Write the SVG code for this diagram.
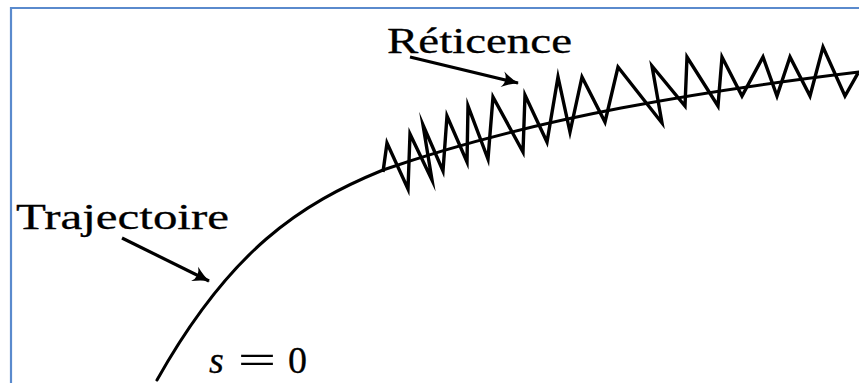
<svg xmlns="http://www.w3.org/2000/svg" width="859" height="383" viewBox="0 0 859 383">
  <style>
    .lbl { font-family: "Liberation Serif", "DejaVu Serif", serif; font-size: 36px; fill: #000; stroke: #000; stroke-width: 0.3; }
    .curve { fill: none; stroke: #000; stroke-width: 3; stroke-linecap: round; }
    .zig { fill: none; stroke: #000; stroke-width: 3.4; stroke-linejoin: miter; stroke-miterlimit: 10; }
    .arr { fill: none; stroke: #000; stroke-width: 3.2; }
    .frame { stroke: #5a8acd; stroke-width: 2.2; fill: none; }
  </style>
  <defs>
    <marker id="ah" viewBox="-18 -9 20 18" markerWidth="20" markerHeight="18" refX="0" refY="0" orient="auto" markerUnits="userSpaceOnUse">
      <path d="M-16,-8 Q-7,-2 1,0 Q-7,2 -16,8 Q-10,0 -16,-8 Z" fill="#000"/>
    </marker>
  </defs>
  <rect width="859" height="383" fill="#ffffff"/>
  <path class="frame" d="M11,384 L11,8 L860,8"/>
  <g id="trajectoire-curve">
    <path class="curve" d="M157,380 C230,250 300,204 383,170 C533,117.5 709,90 859,72"/>
  </g>
  <g id="reticence-zigzag">
    <path class="zig" d="M383,172 L387,143 L408,189 L410,134 L432,180 L423,125 L443,171 L447,116 L467,162 L468,106 L488,159 L493,97 L523,152 L525,95 L547,142 L558,77 L570,132 L582,77 L605,122 L618,67 L662,123 L652,66 L685,106 L687,57 L718,106 L722,57 L742,96 L763,57 L777,96 L790,57 L810,96 L823,47 L845,96 L858,73"/>
  </g>
  <g id="connectors">
    <line class="arr" x1="410" y1="57" x2="518" y2="83" marker-end="url(#ah)"/>
    <line class="arr" x1="122" y1="238" x2="209" y2="281" marker-end="url(#ah)"/>
  </g>
  <g id="label-reticence">
    <text class="lbl" x="387" y="53" textLength="185" lengthAdjust="spacingAndGlyphs">Réticence</text>
  </g>
  <g id="label-trajectoire">
    <text class="lbl" x="16" y="229" textLength="213" lengthAdjust="spacingAndGlyphs">Trajectoire</text>
  </g>
  <g id="label-s0">
    <text class="lbl" style="font-size:38px"><tspan x="209" y="373" font-style="italic">s</tspan><tspan x="238" y="373" textLength="38" lengthAdjust="spacingAndGlyphs">=</tspan><tspan x="288" y="373">0</tspan></text>
  </g>
</svg>
